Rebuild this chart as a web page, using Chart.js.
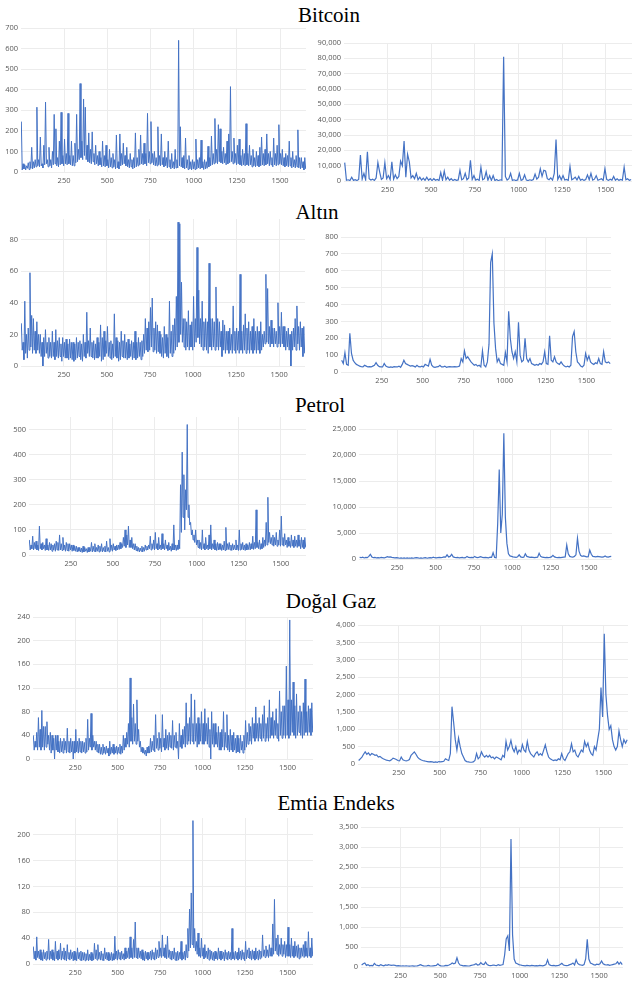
<!DOCTYPE html>
<html lang="tr">
<head>
<meta charset="utf-8">
<title>Bitcoin, Altın, Petrol, Doğal Gaz, Emtia Endeks</title>
<script src="https://cdn.jsdelivr.net/npm/chart.js@4.4.1/dist/chart.umd.min.js"></script>
<style>
  html, body { margin: 0; padding: 0; background: #fff; }
  body { position: relative; width: 632px; height: 985px; overflow: hidden; }
  .title { position: absolute; width: 300px; text-align: center; font: 21px/21px 'Liberation Serif', 'Times New Roman', serif; color: #000; }
  canvas { position: absolute; }
</style>
</head>
<body>
<div class="title" style="left:179px;top:5px">Bitcoin</div>
<div class="title" style="left:167px;top:202px">Altın</div>
<div class="title" style="left:170px;top:395px">Petrol</div>
<div class="title" style="left:181px;top:591px">Doğal Gaz</div>
<div class="title" style="left:186px;top:793px">Emtia Endeks</div>

<canvas id="btcL"></canvas>
<canvas id="btcR"></canvas>
<canvas id="altL"></canvas>
<canvas id="altR"></canvas>
<canvas id="petL"></canvas>
<canvas id="petR"></canvas>
<canvas id="gazL"></canvas>
<canvas id="gazR"></canvas>
<canvas id="emtL"></canvas>
<canvas id="emtR"></canvas>

<script>
// left-hand series are read every 5 observations (from obs 3),
// right-hand series every 10 observations (from obs 5)
const denseStart = 3, denseStep = 5;
const sparseStart = 5, sparseStep = 10;
const lastObs = 1650;

const bitcoinLeft = [
  245,10, 40,15, 35,10, 30,18, 45,12, 50,18, 120,15, 50,20, 60,25, 315,30,
  60,25, 170,30, 40,20, 130,35, 340,40, 60,25, 120,30, 60,20, 100,35, 280,40,
  210,30, 70,25, 150,35, 290,40, 80,30, 160,40, 90,35, 285,40, 80,35, 150,30,
  80,30, 140,45, 280,50, 110,60, 430,70, 150,60, 355,80, 315,60, 130,50, 190,45,
  110,40, 195,50, 90,35, 130,40, 80,30, 100,35, 70,25, 150,30, 80,25, 130,30,
  60,20, 110,25, 70,20, 90,25, 60,15, 180,20, 50,15, 185,30, 90,35, 140,40,
  80,30, 120,25, 60,20, 90,25, 60,15, 70,20, 190,25, 70,30, 110,35, 180,40,
  90,35, 140,40, 90,30, 285,45, 100,40, 245,45, 90,35, 100,30, 70,30, 220,35,
  80,30, 185,35, 70,25, 100,30, 70,20, 150,25, 60,15, 90,20, 50,15, 110,20,
  60,20, 640,30, 220,25, 70,20, 80,15, 165,20, 60,12, 80,15, 50,10, 60,15,
  50,12, 160,15, 60,20, 70,15, 155,20, 50,12, 60,15, 50,18, 125,25, 70,30,
  175,35, 90,40, 260,45, 110,40, 230,50, 210,45, 100,40, 120,45, 90,35, 150,40,
  185,45, 415,50, 100,40, 165,45, 90,35, 130,40, 160,35, 80,30, 110,35, 90,30,
  235,35, 90,30, 130,35, 80,25, 110,30, 70,25, 100,30, 80,25, 120,30, 170,35,
  90,30, 110,35, 185,40, 90,30, 100,35, 70,25, 165,35, 90,30, 130,35, 230,40,
  90,35, 110,30, 70,25, 90,30, 80,25, 150,30, 70,20, 100,25, 60,20, 80,25,
  205,20, 70,15, 70,20, 50,10, 70,15
];

const bitcoinRight = [
  12000, 500, 800, 300, 2500, 400, 900, 300, 1000, 17000,
  1200, 5000, 800, 19000, 1500, 600, 1200, 400, 2000, 12000,
  6000, 1000, 2000, 12000, 1500, 3500, 900, 12500, 1200, 4000,
  1500, 3000, 13000, 10000, 26000, 2500, 17500, 12500, 2000, 3500,
  1500, 5000, 800, 2500, 600, 1800, 400, 2500, 500, 1500,
  300, 1500, 500, 1000, 300, 5500, 600, 6500, 800, 2500,
  500, 1500, 300, 1000, 400, 700, 7000, 800, 1500, 5000,
  800, 2000, 13500, 1000, 3500, 600, 1200, 400, 9000, 800,
  1500, 6000, 500, 3500, 400, 3500, 300, 1000, 200, 800,
  500, 81000, 3000, 600, 1500, 5000, 400, 800, 300, 700,
  5000, 400, 1000, 4000, 600, 300, 800, 400, 1000, 4500,
  1200, 2500, 8000, 3000, 7000, 6500, 1500, 800, 2000, 600,
  5000, 27000, 1000, 3500, 800, 3500, 600, 1000, 400, 9500,
  800, 1500, 2500, 700, 3000, 500, 1200, 400, 1000, 4000,
  800, 5000, 600, 1200, 3500, 500, 1000, 1500, 400, 8000,
  1000, 400, 1200, 600, 3000, 500, 1500, 400, 1000, 600,
  9000, 800, 1500, 400, 1000
];

const altinLeft = [
  27,10, 15,4, 41,8, 20,5, 24,10, 59,12, 32,8, 30,10, 22,8, 28,10,
  20,8, 20,6, 15,0, 18,6, 23,8, 15,5, 18,6, 15,5, 22,6, 15,4,
  23,6, 16,5, 18,6, 14,3, 18,6, 15,5, 17,5, 14,4, 17,5, 15,4,
  15,3, 14,4, 18,5, 15,6, 16,4, 14,3, 20,6, 15,5, 34,8, 16,6,
  24,6, 15,5, 16,4, 14,5, 18,5, 15,6, 26,3, 18,4, 22,6, 16,8,
  25,6, 15,5, 16,4, 14,5, 33,6, 18,5, 16,3, 15,4, 22,6, 16,5,
  20,5, 15,4, 17,5, 14,6, 16,4, 15,5, 22,4, 15,5, 18,6, 15,4,
  16,6, 20,8, 30,10, 24,9, 28,10, 37,12, 43,9, 24,10, 28,8, 26,9,
  22,8, 20,6, 18,5, 25,8, 20,6, 18,5, 41,8, 22,6, 26,8, 30,10,
  44,12, 91,15, 90,20, 53,15, 30,12, 30,10, 28,12, 35,10, 26,12, 28,10,
  44,12, 30,15, 75,18, 48,14, 30,12, 41,10, 28,12, 30,10, 28,8, 65,12,
  30,10, 30,12, 28,10, 50,12, 30,10, 28,12, 22,6, 29,10, 26,8, 22,10,
  22,8, 24,10, 20,8, 38,10, 22,8, 24,10, 22,8, 58,10, 22,8, 26,10,
  33,8, 24,10, 28,8, 22,10, 25,8, 30,10, 22,8, 25,10, 22,8, 28,10,
  20,12, 22,14, 58,15, 49,14, 25,12, 29,14, 24,12, 24,14, 22,12, 40,14,
  25,12, 34,14, 25,12, 25,10, 22,12, 24,10, 20,0, 22,10, 24,12, 30,10,
  38,14, 25,10, 28,12, 24,6, 25,8
];

const altinRight = [
  70, 50, 115, 45, 40, 230, 110, 70, 55, 45,
  40, 35, 32, 30, 40, 35, 30, 32, 30, 35,
  40, 55, 40, 32, 30, 30, 50, 35, 30, 28,
  30, 28, 32, 30, 30, 35, 28, 45, 70, 50,
  45, 40, 35, 38, 35, 30, 40, 32, 30, 35,
  30, 45, 40, 35, 75, 40, 30, 28, 30, 32,
  40, 30, 30, 35, 28, 30, 32, 30, 30, 32,
  30, 32, 35, 80, 60, 125, 80, 90, 75, 60,
  50, 40, 45, 35, 40, 30, 125, 40, 30, 60,
  165, 650, 700, 290, 140, 60, 80, 50, 45, 40,
  115, 60, 360, 200, 120, 80, 120, 60, 295, 100,
  60, 70, 200, 80, 60, 80, 50, 45, 40, 45,
  40, 50, 45, 60, 120, 50, 45, 215, 70, 60,
  90, 60, 50, 45, 60, 45, 35, 30, 35, 30,
  40, 210, 240, 120, 60, 50, 35, 30, 40, 110,
  70, 95, 60, 50, 45, 55, 50, 80, 50, 45,
  120, 60, 55, 60, 50
];

const petrolLeft = [
  60,20, 40,25, 75,20, 50,25, 55,20, 40,18, 115,25, 45,20, 50,25, 40,18,
  65,20, 40,18, 50,20, 45,15, 40,20, 45,15, 55,20, 50,18, 80,20, 45,18,
  70,20, 40,15, 50,18, 45,15, 45,20, 40,15, 40,18, 35,15, 35,12, 30,15,
  30,12, 28,10, 35,12, 30,15, 25,10, 30,12, 30,15, 50,12, 35,15, 45,12,
  30,15, 40,12, 35,15, 45,12, 30,15, 35,12, 55,15, 30,12, 65,18, 40,15,
  45,20, 35,18, 40,20, 40,22, 50,25, 45,30, 70,35, 100,30, 80,40, 115,30,
  60,30, 70,25, 45,20, 45,18, 35,15, 30,12, 28,15, 35,12, 30,15, 40,20,
  35,20, 40,25, 75,20, 45,25, 60,20, 90,25, 45,20, 70,25, 40,20, 85,25,
  45,20, 60,25, 40,18, 50,20, 35,15, 45,20, 120,20, 40,18, 40,22, 60,25,
  280,90, 410,150, 320,100, 260,180, 520,150, 200,120, 130,80, 100,60, 80,50, 100,40,
  60,30, 60,25, 50,20, 100,25, 45,20, 70,25, 40,20, 80,25, 120,20, 45,25,
  60,20, 45,18, 50,20, 45,22, 45,18, 40,20, 55,18, 110,20, 45,22, 50,20,
  40,18, 45,20, 40,22, 60,20, 40,18, 100,20, 45,22, 50,20, 40,18, 45,20,
  40,22, 50,20, 45,25, 75,22, 50,25, 180,30, 50,25, 60,22, 45,25, 70,30,
  60,35, 130,40, 230,50, 90,45, 70,40, 80,35, 70,40, 90,35, 60,40, 100,35,
  155,40, 70,35, 85,40, 60,30, 70,35, 55,30, 80,35, 60,30, 75,35, 60,30,
  80,35, 60,25, 70,30, 60,25, 70,30
];

const petrolRight = [
  300, 250, 350, 200, 300, 250, 500, 900, 400, 250,
  300, 200, 250, 200, 300, 250, 200, 300, 450, 350,
  400, 300, 250, 200, 250, 200, 150, 200, 150, 200,
  150, 200, 150, 150, 200, 150, 200, 250, 200, 150,
  200, 150, 200, 250, 150, 200, 250, 200, 350, 250,
  200, 250, 300, 250, 300, 400, 350, 800, 400, 500,
  900, 400, 300, 250, 300, 200, 250, 300, 200, 250,
  500, 300, 250, 300, 250, 500, 300, 250, 350, 450,
  300, 250, 300, 250, 200, 350, 300, 1200, 300, 250,
  6800, 17200, 5000, 8600, 24200, 8000, 3000, 1000, 600, 500,
  400, 350, 300, 450, 800, 400, 300, 350, 1000, 500,
  400, 300, 350, 300, 250, 300, 350, 1100, 500, 350,
  300, 250, 300, 250, 300, 400, 700, 400, 300, 250,
  300, 250, 300, 350, 400, 2700, 1000, 500, 400, 350,
  500, 800, 4000, 1500, 700, 500, 600, 500, 400, 450,
  1700, 900, 500, 450, 400, 500, 450, 400, 350, 400,
  600, 400, 350, 450, 500
];

const gazLeft = [
  40,15, 30,20, 45,15, 70,20, 50,15, 82,20, 55,15, 55,20, 63,25, 40,15,
  45,10, 40,15, 35,0, 40,15, 40,12, 30,10, 35,12, 30,10, 35,15, 30,10,
  52,12, 30,10, 35,12, 30,0, 30,10, 50,12, 30,10, 35,12, 30,10, 30,12,
  28,10, 35,12, 67,15, 35,20, 77,15, 40,20, 30,15, 30,12, 25,10, 25,8,
  20,8, 25,10, 20,8, 22,10, 18,5, 30,8, 20,10, 25,8, 20,10, 22,8,
  20,10, 25,8, 22,10, 40,15, 35,20, 45,25, 60,20, 137,30, 70,25, 93,30,
  60,25, 100,30, 50,20, 30,12, 20,10, 18,8, 15,5, 20,10, 22,10, 35,12,
  30,15, 40,12, 75,18, 35,15, 45,18, 35,12, 75,20, 35,15, 50,18, 40,15,
  45,20, 40,18, 65,15, 40,20, 45,18, 30,0, 60,20, 40,18, 50,25, 55,20,
  95,25, 60,30, 70,25, 110,30, 60,25, 100,30, 60,20, 70,25, 60,30, 80,25,
  60,25, 85,30, 60,25, 70,20, 50,0, 80,25, 60,20, 60,25, 45,20, 55,15,
  45,15, 50,20, 80,15, 45,20, 75,15, 40,12, 50,15, 40,12, 45,15, 35,10,
  40,12, 35,10, 40,15, 30,10, 40,15, 65,20, 45,25, 60,30, 55,25, 70,35,
  60,30, 88,35, 60,30, 70,35, 60,30, 75,35, 90,30, 60,35, 70,30, 100,35,
  70,40, 80,35, 65,40, 85,35, 60,30, 115,40, 80,35, 90,40, 90,35, 157,40,
  100,35, 235,40, 100,45, 130,40, 90,35, 110,40, 80,45, 90,40, 80,35, 95,40,
  135,45, 80,40, 90,45, 85,40, 95,45
];

const gazRight = [
  100, 150, 200, 280, 350, 280, 320, 250, 300, 280,
  250, 260, 200, 220, 180, 150, 130, 110, 100, 90,
  120, 170, 150, 130, 100, 90, 200, 120, 100, 90,
  100, 130, 250, 300, 350, 280, 200, 150, 120, 100,
  90, 80, 70, 60, 70, 60, 50, 60, 50, 70,
  60, 70, 80, 150, 120, 100, 300, 1650, 1200, 700,
  400, 750, 500, 300, 200, 100, 70, 60, 50, 50,
  60, 100, 300, 150, 200, 350, 250, 200, 250, 200,
  250, 180, 200, 150, 200, 180, 150, 120, 250, 200,
  650, 400, 500, 680, 450, 350, 500, 300, 400, 350,
  560, 400, 350, 650, 400, 300, 250, 200, 300, 350,
  250, 300, 250, 400, 550, 350, 200, 150, 120, 100,
  120, 100, 150, 120, 300, 150, 100, 200, 300, 350,
  580, 350, 400, 250, 200, 300, 400, 350, 650, 500,
  600, 400, 300, 250, 500, 400, 700, 1000, 2200, 1350,
  3750, 2000, 1400, 1000, 1100, 700, 500, 400, 500, 950,
  700, 500, 700, 600, 700
];

const emtiaLeft = [
  27,8, 20,6, 42,10, 20,8, 22,6, 18,5, 22,8, 18,6, 20,8, 38,6,
  20,8, 22,6, 18,5, 35,8, 20,6, 22,8, 32,6, 20,8, 25,6, 20,5,
  30,8, 18,6, 22,8, 18,5, 20,6, 18,5, 25,8, 18,6, 20,5, 18,6,
  18,5, 16,6, 22,5, 15,6, 18,5, 16,6, 32,8, 22,6, 30,8, 18,6,
  20,6, 16,5, 25,8, 18,6, 18,5, 16,6, 18,5, 16,6, 43,8, 20,6,
  22,8, 18,6, 20,8, 16,6, 25,8, 20,10, 25,8, 42,10, 25,8, 38,10,
  65,10, 25,8, 25,10, 20,8, 22,6, 18,5, 20,8, 18,6, 18,8, 20,6,
  22,8, 18,6, 25,8, 22,10, 35,12, 25,10, 45,12, 25,10, 30,8, 43,10,
  22,8, 20,6, 20,8, 25,6, 18,5, 20,6, 18,8, 35,6, 18,8, 20,6,
  30,10, 55,20, 85,25, 110,30, 222,25, 55,20, 35,15, 48,12, 25,10, 40,12,
  25,8, 30,10, 20,8, 25,6, 22,8, 20,6, 18,5, 20,8, 18,6, 25,8,
  20,6, 20,8, 18,5, 22,8, 18,6, 20,8, 18,6, 55,8, 18,6, 20,8,
  18,6, 25,8, 20,6, 22,8, 18,5, 35,8, 22,10, 25,8, 20,6, 22,8,
  20,6, 25,8, 20,6, 22,8, 20,10, 45,12, 22,10, 28,12, 22,10, 30,12,
  25,12, 62,15, 100,20, 40,15, 45,12, 30,15, 40,12, 30,15, 35,10, 30,12,
  57,12, 30,10, 40,12, 28,10, 35,12, 28,10, 30,8, 25,10, 25,12, 30,10,
  35,12, 25,10, 50,12, 25,10, 40,12
];

const emtiaRight = [
  50, 80, 100, 40, 60, 30, 40, 30, 90, 50,
  40, 30, 60, 40, 30, 50, 40, 60, 45, 40,
  50, 40, 30, 35, 30, 25, 30, 25, 30, 25,
  20, 25, 30, 20, 25, 30, 40, 60, 40, 30,
  25, 30, 40, 30, 25, 30, 35, 40, 80, 40,
  30, 25, 30, 40, 35, 50, 70, 100, 80, 100,
  230, 100, 50, 40, 30, 35, 30, 25, 30, 40,
  50, 60, 80, 50, 60, 110, 70, 60, 120, 60,
  40, 35, 40, 50, 40, 35, 60, 40, 50, 60,
  300, 700, 780, 400, 3200, 800, 200, 100, 80, 60,
  50, 40, 35, 30, 40, 35, 30, 40, 35, 30,
  35, 30, 40, 35, 30, 40, 60, 180, 60, 40,
  35, 40, 30, 35, 40, 60, 90, 50, 40, 35,
  40, 60, 70, 100, 50, 180, 90, 60, 50, 40,
  60, 200, 690, 200, 100, 80, 60, 50, 70, 60,
  80, 150, 80, 60, 50, 60, 40, 50, 60, 70,
  80, 130, 70, 120, 60
];

// y-axis maximum and step for each panel
const yMax = { btcL: 700, btcR: 90000, altL: 93, altR: 800, petL: 550, petR: 25000, gazL: 240, gazR: 4000, emtL: 226, emtR: 3500 };
const yStep = { btcL: 100, btcR: 10000, altL: 20, altR: 100, petL: 100, petR: 5000, gazL: 40, gazR: 500, emtL: 40, emtR: 500 };

// plot area of each panel on the page: left, right, top, bottom
const boxes = {
  btcL: [21, 306, 28, 172], btcR: [344, 632, 43, 181],
  altL: [21, 305, 219, 366], altR: [341, 611, 237, 372],
  petL: [29, 306, 417, 555], petR: [359, 612, 429, 559],
  gazL: [33, 313, 617, 759], gazR: [358, 628, 625, 764],
  emtL: [33, 313, 818, 964], emtR: [361, 623, 827, 967]
};

const AXIS_W = 40, PAD_TOP = 10, AXIS_H = 16, PAD_RIGHT = 2;
const gridColor = '#ececec';

Chart.defaults.font.family = "'Open Sans', sans-serif";
Chart.defaults.font.size = 7.5;
Chart.defaults.color = '#595959';

function drawPanel(id, values, start, step, lineWidth) {
  const [l, r, t, b] = boxes[id];
  const canvas = document.getElementById(id);
  canvas.width = (r - l) + AXIS_W + PAD_RIGHT;
  canvas.height = (b - t) + PAD_TOP + AXIS_H;
  canvas.style.left = (l - AXIS_W) + 'px';
  canvas.style.top = (t - PAD_TOP) + 'px';

  new Chart(canvas, {
    type: 'line',
    data: {
      datasets: [{
        data: values.map((v, i) => ({ x: start + i * step, y: v })),
        borderColor: '#4472C4',
        borderWidth: lineWidth,
        pointRadius: 0,
        tension: 0
      }]
    },
    options: {
      responsive: false,
      animation: false,
      devicePixelRatio: 1,
      layout: { padding: { top: PAD_TOP, right: PAD_RIGHT, left: 0, bottom: 0 } },
      plugins: { legend: { display: false }, tooltip: { enabled: false } },
      scales: {
        x: {
          type: 'linear',
          min: 1,
          max: lastObs,
          afterFit: s => { s.height = AXIS_H; },
          border: { display: false },
          grid: { color: gridColor, drawTicks: false },
          ticks: { stepSize: 250, includeBounds: false, padding: 4, maxRotation: 0, autoSkip: false, callback: v => String(v) }
        },
        y: {
          min: 0,
          max: yMax[id],
          afterFit: s => { s.width = AXIS_W; },
          border: { display: false },
          grid: { color: gridColor, drawTicks: false },
          ticks: { stepSize: yStep[id], includeBounds: false, padding: 3 }
        }
      }
    }
  });
}

drawPanel('btcL', bitcoinLeft, denseStart, denseStep, 1);
drawPanel('btcR', bitcoinRight, sparseStart, sparseStep, 1.2);
drawPanel('altL', altinLeft, denseStart, denseStep, 1);
drawPanel('altR', altinRight, sparseStart, sparseStep, 1.2);
drawPanel('petL', petrolLeft, denseStart, denseStep, 1);
drawPanel('petR', petrolRight, sparseStart, sparseStep, 1.2);
drawPanel('gazL', gazLeft, denseStart, denseStep, 1);
drawPanel('gazR', gazRight, sparseStart, sparseStep, 1.2);
drawPanel('emtL', emtiaLeft, denseStart, denseStep, 1);
drawPanel('emtR', emtiaRight, sparseStart, sparseStep, 1.2);
</script>
</body>
</html>
